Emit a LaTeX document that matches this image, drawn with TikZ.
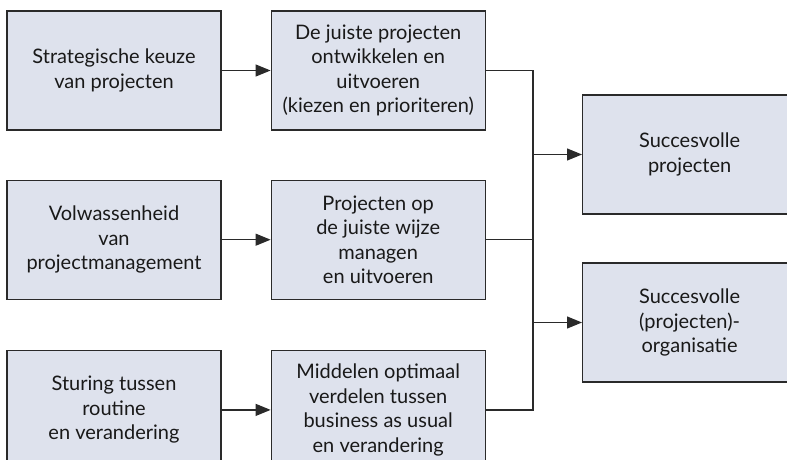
\documentclass[tikz,border=0pt]{standalone}
\usepackage{xcolor}
\usepackage{fontspec}
\setmainfont{Lato}
\usepackage{tikz}
\usetikzlibrary{arrows.meta,positioning}

\definecolor{boxfill}{HTML}{DEE2ED}
\definecolor{boxline}{HTML}{2A2A2A}

\begin{document}
\begin{tikzpicture}[
  x=1pt,y=-1pt,
  node distance=49pt,
  box/.style={draw=boxline,line width=1.2pt,fill=boxfill,align=center,
              minimum width=214pt,minimum height=119pt,text=black!90,
              font=\fontsize{20}{24.5}\selectfont},
  line/.style={draw=boxline,line width=1.2pt},
  arrow/.style={line,-{Triangle[length=15pt,width=12pt]}}
]
\useasboundingbox (0,0) rectangle (787,460);
\node[box] (keuze) at (114,70.5) {Strategische keuze\\van projecten};
\node[box,right=of keuze] (juist) {De juiste projecten\\ontwikkelen en\\uitvoeren\\(kiezen en prioriteren)};
\node[box,below=of keuze] (volw) {Volwassenheid\\van\\projectmanagement};
\node[box,right=of volw] (wijze) {Projecten op\\de juiste wijze\\managen\\en uitvoeren};
\node[box,below=50pt of volw] (sturing) {Sturing tussen\\routine\\en verandering};
\node[box,right=of sturing] (middel) {Middelen optimaal\\verdelen tussen\\business as usual\\en verandering};
\node[box,anchor=west] (succproj) at (582,154.5) {Succesvolle\\projecten};
\node[box,anchor=west] (succorg) at (582,322.5) {Succesvolle\\(projecten)-\\organisatie};
\coordinate (busN) at (533,70.5);
\coordinate (busS) at (middel.east -| busN);
\coordinate (tapA) at (533,154.5);
\coordinate (tapB) at (533,322.5);
\draw[arrow] (keuze)--(juist);
\draw[arrow] (volw)--(wijze);
\draw[arrow] (sturing)--(middel);
\draw[line] (juist.east)--(busN)--(busS)--(middel.east);
\draw[line] (wijze.east)--(wijze.east -| busN);
\draw[arrow] (tapA)--(succproj.west);
\draw[arrow] (tapB)--(succorg.west);
\end{tikzpicture}
\end{document}
